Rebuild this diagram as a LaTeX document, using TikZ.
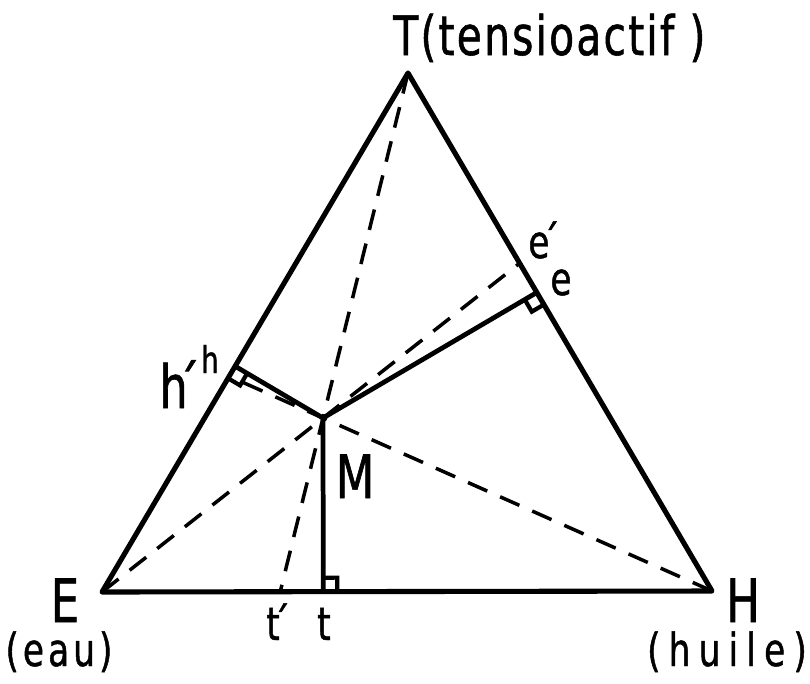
\documentclass[tikz,border=0pt]{standalone}
\usepackage{fontspec}
\newfontfamily\lettering[FakeStretch=0.75, FakeBold=1]{DejaVu Sans}
\usetikzlibrary{calc}
\tikzset{
  side/.style={line width=2.9pt, line join=round, line cap=round},
  perp/.style={line width=2.7pt},
  cevian/.style={line width=2pt, dash pattern=on 12pt off 8pt},
  rightmark/.style={line width=2.4pt},
  biglabel/.style={font=\lettering\fontsize{34}{40}\selectfont, inner sep=0pt},
  toplabel/.style={font=\lettering\addfontfeatures{LetterSpace=4}\fontsize{31}{36}\selectfont, inner sep=0pt},
  namelabel/.style={font=\lettering\addfontfeatures{LetterSpace=#1}\fontsize{26}{31}\selectfont, inner sep=0pt},
  midlabel/.style={font=\lettering\fontsize{26}{31}\selectfont, inner sep=0pt},
  smalllabel/.style={font=\lettering\fontsize{21}{25}\selectfont, inner sep=0pt}
}
% right-angle square at foot #1, along the side towards #2, and towards #3
\newcommand{\anglemark}[4]{%
  \coordinate (#4a) at ($(#1)!0.28cm!(#2)$);
  \coordinate (#4b) at ($(#1)!0.28cm!(#3)$);
  \draw[rightmark] (#4a) -- ($(#4a)+(#4b)-(#1)$) -- (#4b);
}
\newcommand{\pr}{\kern-4pt´}

\begin{document}
\begin{tikzpicture}[x=0.02cm, y=-0.02cm]
  \useasboundingbox (0,0) rectangle (810,683);
  % vertices and the point M
  \coordinate (E) at (102,592);
  \coordinate (H) at (712,591);
  \coordinate (T) at (408,73);
  \coordinate (M) at (323,418);
  % feet of the perpendiculars
  \coordinate (t) at ($(E)!(M)!(H)$);
  \coordinate (h) at ($(E)!(M)!(T)$);
  \coordinate (e) at ($(T)!(M)!(H)$);
  % lines from the vertices through M
  \coordinate (tp) at (intersection of T--M and E--H);
  \coordinate (hp) at (intersection of H--M and E--T);
  \coordinate (ep) at (intersection of E--M and T--H);

  \draw[cevian] (T) -- (tp);
  \draw[cevian] (H) -- (hp);
  \draw[cevian] (E) -- (ep);

  \draw[perp] (M) -- (t);
  \draw[perp] (M) -- (h);
  \draw[perp] (M) -- (e);

  \anglemark{t}{H}{M}{qt}
  \anglemark{h}{E}{M}{qh}
  \anglemark{e}{H}{M}{qe}

  \draw[side] (E) -- (H) -- (T) -- cycle;

  \node[toplabel, anchor=base west] (Tlab) at (393,55) {T(tensioactif )};
  \node[biglabel, anchor=base] (Elab) at (65,622) {E};
  \node[namelabel=9, anchor=base] (eau) at (59,666) {(eau)};
  \node[biglabel, anchor=base] (Hlab) at (743,622) {H};
  \node[namelabel=18, anchor=base] (huile) at (727,666) {(huile)};
  \node[biglabel, anchor=base] (Mlab) at (355,498) {M};
  \node[midlabel, anchor=base west] (tplab) at (266,640) {t\pr};
  \node[midlabel, anchor=base] (tlab) at (324,640) {t};
  \node[biglabel, anchor=base west] (hplab) at (159,408) {h\kern-2pt\pr};
  \node[smalllabel, anchor=base] (hlab) at (210,373) {h};
  \node[midlabel, anchor=base west] (eplab) at (528,258) {e\pr};
  \node[midlabel, anchor=base] (elab) at (561,295) {e};
\end{tikzpicture}
\end{document}
